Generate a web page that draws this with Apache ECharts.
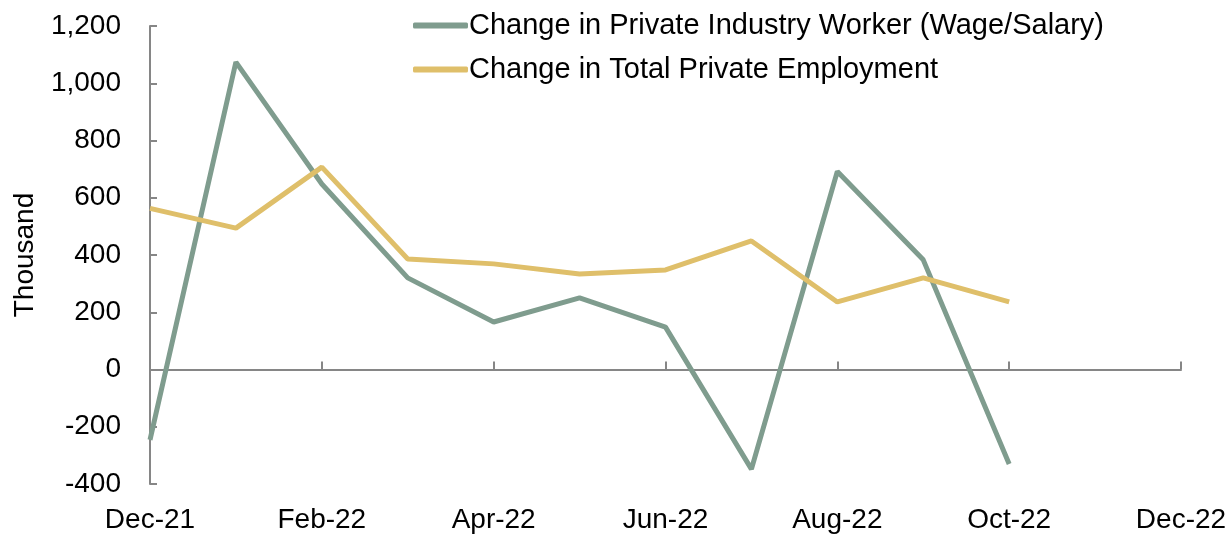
<!DOCTYPE html>
<html>
<head>
<meta charset="utf-8">
<script src="https://cdn.jsdelivr.net/npm/echarts@6/dist/echarts.min.js"></script>
<style>
  html, body { margin: 0; padding: 0; background: #fff; }
  #chart { width: 1232px; height: 535px; }
</style>
</head>
<body>
<div id="chart"></div>
<script>
const months = ['Dec-21', 'Jan-22', 'Feb-22', 'Mar-22', 'Apr-22', 'May-22', 'Jun-22',
    'Jul-22', 'Aug-22', 'Sep-22', 'Oct-22', 'Nov-22', 'Dec-22'];
const wageSalary = [-246, 1074, 648, 320, 166, 250, 148, -348, 692, 383, -330];
const totalPrivate = [563, 494, 707, 386, 369, 334, 348, 449, 236, 320, 236];

const axisGray = '#868686';
const font = 'Liberation Sans, Arial, sans-serif';

const chart = echarts.init(document.getElementById('chart'));
chart.setOption({
    animation: false,
    grid: { left: 150, right: 51, top: 26, bottom: 51, containLabel: false },
    legend: {
        orient: 'vertical',
        left: 408,
        top: 6,
        itemWidth: 55,
        itemHeight: 6,
        itemGap: 15,
        icon: 'roundRect',
        textStyle: { fontFamily: font, fontSize: 29, color: '#000', padding: [0, 0, 0, -4] },
        data: ['Change in Private Industry Worker (Wage/Salary)', 'Change in Total Private Employment']
    },
    xAxis: [
        {
            type: 'category',
            data: months,
            boundaryGap: false,
            axisLine: { show: false, onZero: false },
            axisTick: { show: false },
            axisLabel: { interval: 1, margin: 22, fontFamily: font, fontSize: 28, color: '#000' }
        },
        {
            // zero line with upward ticks
            type: 'category',
            data: months,
            boundaryGap: false,
            position: 'top',
            axisLine: { show: true, onZero: true, lineStyle: { color: axisGray, width: 2 } },
            axisTick: { show: true, interval: 1, inside: false, length: 8, lineStyle: { color: axisGray, width: 2 } },
            axisLabel: { show: false }
        }
    ],
    yAxis: {
        type: 'value',
        min: -400,
        max: 1200,
        interval: 200,
        name: 'Thousand',
        nameLocation: 'middle',
        nameGap: 111,
        nameTextStyle: { fontFamily: font, fontSize: 28, color: '#000' },
        axisLine: { show: true, lineStyle: { color: axisGray, width: 2 } },
        axisTick: { show: true, inside: true, length: 7, lineStyle: { color: axisGray, width: 2 } },
        splitLine: { show: false },
        axisLabel: {
            margin: 29,
            fontFamily: font,
            fontSize: 28,
            color: '#000',
            formatter: v => v.toLocaleString('en-US')
        }
    },
    series: [
        {
            name: 'Change in Private Industry Worker (Wage/Salary)',
            type: 'line',
            data: wageSalary,
            symbol: 'none',
            color: '#7f9c8e',
            lineStyle: { width: 5, color: '#7f9c8e' }
        },
        {
            name: 'Change in Total Private Employment',
            type: 'line',
            data: totalPrivate,
            symbol: 'none',
            color: '#dfbf6a',
            lineStyle: { width: 5, color: '#dfbf6a' }
        }
    ]
});
</script>
</body>
</html>
